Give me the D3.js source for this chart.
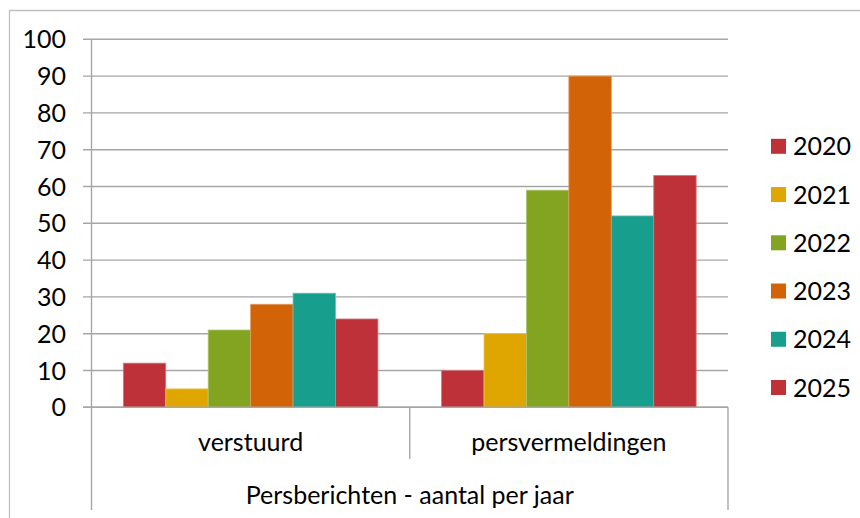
<!DOCTYPE html>
<html>
<head>
<meta charset="utf-8">
<script src="https://cdn.jsdelivr.net/npm/d3@7"></script>
<style>
  html, body { margin: 0; padding: 0; background: #fff; }
  svg { display: block; }
  text { font-family: Lato, "Open Sans", sans-serif; fill: #000; }
</style>
</head>
<body>
<svg id="chart" width="860" height="518"></svg>
<script>
const categories = ["verstuurd", "persvermeldingen"];
const years = ["2020", "2021", "2022", "2023", "2024", "2025"];
const values2020 = [12, 10];
const values2021 = [5, 20];
const values2022 = [21, 59];
const values2023 = [28, 90];
const values2024 = [31, 52];
const values2025 = [24, 63];
const seriesValues = [values2020, values2021, values2022, values2023, values2024, values2025];
const colors = ["#BE3139", "#DFA500", "#82A421", "#D26306", "#179E8C", "#BE3139"];
const yTicks = [0, 10, 20, 30, 40, 50, 60, 70, 80, 90, 100];
const axisTitle = "Persberichten - aantal per jaar";

const svg = d3.select("#chart");
const plotLeft = 91.5, plotRight = 728, plotTop = 39.3, plotBottom = 407.3;
const gridColor = "#A6A6A6";
const fontSize = 25;

// outer chart border (only top and left visible)
svg.append("path")
  .attr("d", "M9.5,518 L9.5,10.5 L860,10.5")
  .attr("fill", "none").attr("stroke", "#BFBFBF").attr("stroke-width", 1.3);

const y = d3.scaleLinear().domain([0, 100]).range([plotBottom, plotTop]);
const x0 = d3.scaleBand().domain(categories).range([plotLeft, plotRight]).paddingInner(0).paddingOuter(0);
const bw = x0.bandwidth();
const x1 = d3.scaleBand().domain(years).range([0, bw]).paddingOuter(0.75).paddingInner(0);

// gridlines + ticks
svg.append("g").selectAll("line").data(yTicks).join("line")
  .attr("x1", plotLeft - 8.5).attr("x2", plotRight)
  .attr("y1", d => y(d)).attr("y2", d => y(d))
  .attr("stroke", gridColor).attr("stroke-width", 1.4);

// y labels
svg.append("g").selectAll("text").data(yTicks).join("text")
  .attr("x", 66).attr("y", d => y(d))
  .attr("dy", "0.36em")
  .attr("text-anchor", "end")
  .style("font-size", fontSize + "px")
  .text(d => d);

// bars
const rows = categories.map((c, i) => ({ cat: c, vals: years.map((yr, j) => ({ yr, j, v: seriesValues[j][i] })) }));
const gCat = svg.append("g").selectAll("g").data(rows).join("g")
  .attr("transform", d => `translate(${x0(d.cat)},0)`);
gCat.selectAll("rect").data(d => d.vals).join("rect")
  .attr("x", d => x1(d.yr))
  .attr("width", x1.bandwidth())
  .attr("y", d => y(d.v))
  .attr("height", d => y(0) - y(d.v))
  .attr("fill", d => colors[d.j])
  .attr("stroke", d => d3.interpolateRgb(colors[d.j], "#fff")(0.35))
  .attr("stroke-width", 0.8);

// axes lines
svg.append("line").attr("x1", plotLeft).attr("x2", plotLeft).attr("y1", plotTop).attr("y2", 510)
  .attr("stroke", gridColor).attr("stroke-width", 1.4);
svg.append("line").attr("x1", plotLeft - 8.5).attr("x2", plotRight).attr("y1", plotBottom).attr("y2", plotBottom)
  .attr("stroke", gridColor).attr("stroke-width", 1.4);
svg.append("line").attr("x1", plotRight).attr("x2", plotRight).attr("y1", plotBottom).attr("y2", 510)
  .attr("stroke", gridColor).attr("stroke-width", 1.4);
svg.append("line").attr("x1", x0(categories[1])).attr("x2", x0(categories[1])).attr("y1", plotBottom).attr("y2", 459)
  .attr("stroke", gridColor).attr("stroke-width", 1.4);

// category labels
svg.append("g").selectAll("text").data(categories).join("text")
  .attr("x", d => x0(d) + bw / 2).attr("y", 442)
  .attr("dy", "0.36em").attr("text-anchor", "middle")
  .style("font-size", fontSize + "px")
  .text(d => d);

svg.append("text")
  .attr("x", (plotLeft + plotRight) / 2).attr("y", 495)
  .attr("dy", "0.36em").attr("text-anchor", "middle")
  .style("font-size", fontSize + "px")
  .text(axisTitle);

// legend
const legendY = d3.scalePoint().domain(years).range([146.3, 387.5]);
const lg = svg.append("g").selectAll("g").data(years).join("g")
  .attr("transform", d => `translate(771,${legendY(d)})`);
lg.append("rect").attr("x", 0).attr("y", -7.5).attr("width", 15).attr("height", 15)
  .attr("fill", (d, i) => colors[i]);
lg.append("text").attr("x", 22).attr("y", 0).attr("dy", "0.36em")
  .style("font-size", fontSize + "px")
  .text(d => d);
</script>
</body>
</html>
